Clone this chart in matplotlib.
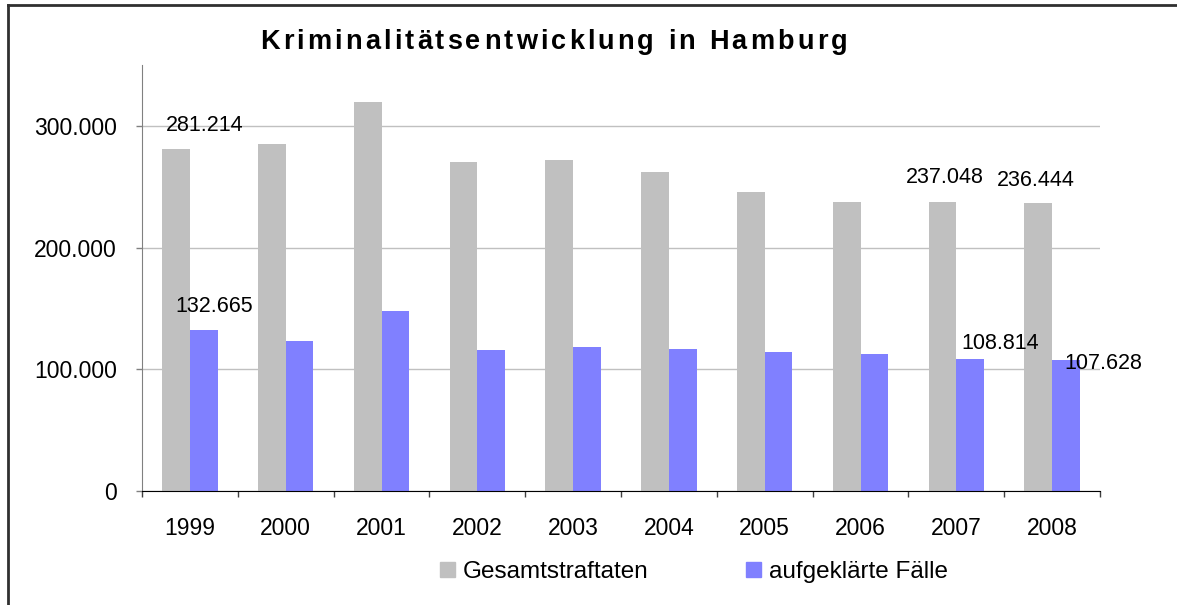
import numpy as np
import matplotlib
matplotlib.use("Agg")
import matplotlib.pyplot as plt
from matplotlib.lines import Line2D
from matplotlib.patches import Patch
from matplotlib.font_manager import FontProperties, findfont, get_font

plt.rcParams['font.family'] = ['Liberation Sans', 'DejaVu Sans']

# Daten
jahre = ['1999', '2000', '2001', '2002', '2003', '2004', '2005', '2006', '2007', '2008']
gesamt = [281214, 285000, 320000, 270500, 272000, 262300, 246000, 237300, 237048, 236444]
aufgeklaert = [132665, 123600, 148200, 115500, 118700, 117000, 113800, 112200, 108814, 107628]

# Beschriftungen (Index, Wert, Text)
labels_gesamt = [(0, 281214, '281.214'), (8, 237048, '237.048'), (9, 236444, '236.444')]
labels_aufg = [(0, 132665, '132.665'), (8, 108814, '108.814'), (9, 107628, '107.628')]

grau = '#C0C0C0'
blau = '#8080FF'

W, H = 1177, 605
DPI = 100
fig = plt.figure(figsize=(W / DPI, H / DPI), dpi=DPI)
ax = fig.add_axes([142 / W, 1 - 491 / H, (1100 - 142) / W, (491 - 65) / H])

x = np.arange(len(jahre))
bw = 0.29
ax.bar(x - bw / 2, gesamt, bw, color=grau, zorder=2)
ax.bar(x + bw / 2, aufgeklaert, bw, color=blau, zorder=2)

ax.set_xlim(-0.5, len(jahre) - 0.5)
ax.set_ylim(0, 350000)
ax.set_yticks([0, 100000, 200000, 300000])
ax.set_yticklabels(['0', '100.000', '200.000', '300.000'])
ax.yaxis.grid(True, color='#C0C0C0', lw=1, zorder=0)
ax.set_axisbelow(True)

ax.set_xticks(x)
ax.set_xticklabels(jahre)
ax.set_xticks(np.arange(len(jahre) + 1) - 0.5, minor=True)
ax.tick_params(axis='x', which='major', length=0, pad=19, labelsize=16.5)
ax.tick_params(axis='x', which='minor', length=4, width=1, color='#404040', direction='out')
ax.tick_params(axis='y', length=4, width=1, color='#808080', pad=14, labelsize=16.5)

for s in ['top', 'right']:
    ax.spines[s].set_visible(False)
ax.spines['left'].set_color('#808080')
ax.spines['bottom'].set_color('black')

# Datenbeschriftungen
off_g = {0: (0.158, 19000), 8: (-0.118, 20600), 9: (-0.168, 18800)}
off_a = {0: (0.25, 19100), 8: (0.456, 12600), 9: (0.53, -2600)}
for i, v, t in labels_gesamt:
    dx, dy = off_g[i]
    ax.text(i + dx, v + dy, t, ha='center', va='center', fontsize=15.5)
for i, v, t in labels_aufg:
    dx, dy = off_a[i]
    ax.text(i + dx, v + dy, t, ha='center', va='center', fontsize=15.5)

# Titel mit Sperrung (Zeichen einzeln gesetzt)
titel = 'Kriminalitätsentwicklung in Hamburg'
tfs = 19.5
fp = FontProperties(family='Liberation Sans', weight='bold', size=tfs)
font = get_font(findfont(fp))
font.set_size(tfs, DPI)
adv = []
for ch in titel:
    g = font.load_char(ord(ch))
    adv.append(g.linearHoriAdvance / 65536)
x0, x1 = 260, 847
sperr = (x1 - x0 - sum(adv)) / (len(titel) - 1)
pen = x0
for k, ch in enumerate(titel):
    if ch != ' ':
        fig.text(pen / W, 1 - 49 / H, ch, fontproperties=fp,
                 ha='left', va='baseline')
    pen += adv[k] + sperr

# Legende
handles = [Patch(color=grau), Patch(color=blau)]
fig.legend(handles, ['Gesamtstraftaten', 'aufgeklärte Fälle'], loc='center',
           bbox_to_anchor=(694 / W, 1 - 572 / H), ncol=2, frameon=False,
           fontsize=17.5, handlelength=0.6, handleheight=0.6, handletextpad=0.33,
           columnspacing=4.0)

# Rahmen
fig.add_artist(Line2D([8 / W, 8 / W], [0, 1 - 5 / H], color='#303030', lw=2))
fig.add_artist(Line2D([8 / W, 1], [1 - 5 / H, 1 - 5 / H], color='#303030', lw=2))

fig.savefig('out.png', dpi=DPI)
